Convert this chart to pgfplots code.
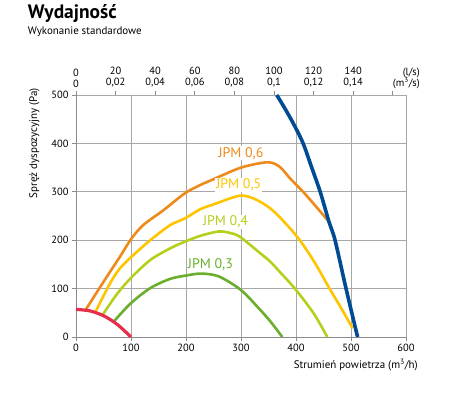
\documentclass[border=0pt]{standalone}
\usepackage{fontspec}
\setmainfont{PT Sans}
\usepackage{pgfplots}
\pgfplotsset{compat=1.18}
\definecolor{gridgray}{HTML}{A8A8A8}
\definecolor{axisgray}{HTML}{8C8C8C}
\definecolor{cOrange}{HTML}{EE8A1A}
\definecolor{cYellow}{HTML}{FFC400}
\definecolor{cYG}{HTML}{B7CF1C}
\definecolor{cGreen}{HTML}{6AAE2C}
\definecolor{cRed}{HTML}{E52E4D}
\definecolor{cBlue}{HTML}{004B93}
\begin{document}
\begin{tikzpicture}
\path (-76bp,-69bp) rectangle (374bp,337bp);
\node[anchor=base west, font=\fontsize{19.5}{21}\selectfont\bfseries, inner sep=0pt] at (-48.3bp,318bp) {Wydajność};
\node[anchor=base west, font=\fontsize{11}{13}\selectfont, inner sep=0pt] at (-48.3bp,302.7bp) {Wykonanie standardowe};
\node[anchor=base east, font=\fontsize{10.5}{12}\selectfont, inner sep=0pt] at (344bp,261.8bp) {(l/s)};
\node[anchor=base east, font=\fontsize{10.5}{12}\selectfont, inner sep=0pt] at (344bp,250.5bp) {(m\textsuperscript{3}/s)};
\node[anchor=base east, font=\fontsize{11}{13}\selectfont, inner sep=0pt] at (342bp,-31bp) {Strumień powietrza (m\textsuperscript{3}/h)};
\node[anchor=base east, rotate=90, font=\fontsize{11}{13}\selectfont, inner sep=0pt] at (-39bp,249bp) {Spręż dyspozycyjny (Pa)};
\begin{axis}[
  at={(0,0)}, anchor=south west,
  width=330bp, height=242bp, scale only axis,
  xmin=0, xmax=600, ymin=0, ymax=500,
  axis x line*=top, axis y line=none,
  xtick={0,72,144,216,288,360,432,504,576},
  xticklabels={{0\\0},{20\\0,02},{40\\0,04},{60\\0,06},{80\\0,08},{100\\0,1},{120\\0,12},{140\\0,14},{}},
  xticklabel style={align=center, font=\fontsize{10.5}{11.3}\selectfont},
  axis line style={draw=axisgray, line width=0.8bp, -},
  tick style={draw=axisgray, line width=0.8bp},
  tick align=outside, major tick length=4bp,
]
\end{axis}
\begin{axis}[
  at={(0,0)}, anchor=south west,
  width=330bp, height=242bp, scale only axis,
  xmin=0, xmax=600, ymin=0, ymax=500,
  xtick={0,100,...,600}, ytick={0,100,...,500},
  axis x line*=bottom, axis y line*=left,
  grid=major, grid style={draw=gridgray, line width=0.8bp},
  axis line style={draw=axisgray, line width=0.8bp, -},
  tick style={draw=axisgray, line width=0.8bp},
  tick align=outside, major tick length=4bp,
  ticklabel style={font=\fontsize{10.5}{12}\selectfont},
  /pgf/number format/assume math mode=true,
  clip=false,
]
\addplot[cGreen, line width=2.6bp, smooth, tension=0.5] coordinates {(68,31) (99,69) (135,101) (171,120) (200,127) (228,131) (260,125) (300,97) (335,56) (355,30) (375,0)};
\addplot[cYG, line width=2.6bp, smooth, tension=0.5] coordinates {(48,45) (74,88) (99,121) (135,159) (171,183) (198,197) (226,209) (259,218) (280,215) (298,207) (335,173) (353,156) (371,134) (398,100) (432,49) (457,0)};
\addplot[cYellow, line width=2.6bp, smooth, tension=0.5] coordinates {(34,49) (62,111) (80,142) (104,169) (135,200) (171,231) (198,245) (226,264) (250,274) (298,292) (325,285) (353,266) (380,236) (407,200) (435,152) (461,100) (482,60) (503,18)};
\addplot[cOrange, line width=2.6bp, smooth, tension=0.5] coordinates {(18,57) (50,114) (80,166) (100,202) (122,231) (159,262) (198,297) (226,314) (250,326) (300,350) (348,361) (370,352) (389,328) (413,300) (436,270) (460,238)};
\addplot[cRed, line width=3.2bp, smooth, tension=0.5] coordinates {(0,57) (25,54) (50,44) (75,26) (100,0)};
\addplot[cBlue, line width=3.6bp, smooth, tension=0.5] coordinates {(365,500) (382,468) (398,435) (413,400) (428,352) (444,300) (460,238) (471,200) (491,100) (512,0)};
\node[fill=white, text=cOrange, font=\fontsize{14}{15}\selectfont, inner sep=1pt] at (axis cs:300,380) {JPM 0,6};
\node[fill=white, text=cYellow, font=\fontsize{14}{15}\selectfont, inner sep=1pt] at (axis cs:296,314) {JPM 0,5};
\node[fill=white, text=cYG, font=\fontsize{14}{15}\selectfont, inner sep=1pt] at (axis cs:272,238) {JPM 0,4};
\node[fill=white, text=cGreen, font=\fontsize{14}{15}\selectfont, inner sep=1pt] at (axis cs:244.5,149) {JPM 0,3};
\end{axis}
\end{tikzpicture}
\end{document}
